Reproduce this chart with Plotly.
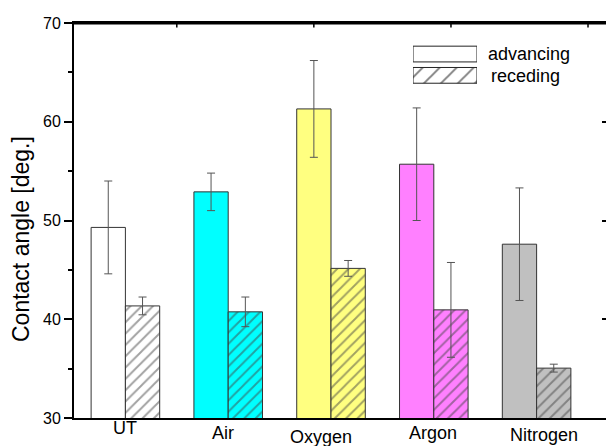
import plotly.graph_objects as go

categories = ["UT", "Air", "Oxygen", "Argon", "Nitrogen"]
advancing = [49.3, 52.9, 61.3, 55.7, 47.6]
advancing_err = [4.7, 1.9, 4.9, 5.7, 5.7]
receding = [41.35, 40.75, 45.15, 40.95, 35.05]
receding_err = [0.9, 1.5, 0.8, 4.8, 0.4]
bar_colors = ["#FFFFFF", "#00FFFF", "#FFFF80", "#FF80FF", "#C0C0C0"]
y_ticks = [30, 40, 50, 60, 70]
top_ticks = [0.5, 1.833, 3.167, 4.5]
legend_labels = ["advancing", "receding"]

FONT = "Liberation Sans, Arial, sans-serif"
W, H = 606, 446
ML, MR, MT, MB = 74, 0, 23, 28
PW, PH = W - ML - MR, H - MT - MB
Y_MIN, Y_MAX = 30, 70

fig = go.Figure()
fig.add_trace(go.Bar(
    x=categories, y=advancing, name=legend_labels[0], showlegend=False,
    marker=dict(color=bar_colors, line=dict(color="#333333", width=1)),
    error_y=dict(type="data", array=advancing_err, color="#555555", thickness=1, width=4),
))
fig.add_trace(go.Bar(
    x=categories, y=receding, name=legend_labels[1], showlegend=False,
    marker=dict(color=bar_colors, line=dict(color="#333333", width=1),
                pattern=dict(shape="/", fillmode="overlay", fgcolor="#000000", size=8, solidity=0.24)),
    error_y=dict(type="data", array=receding_err, color="#555555", thickness=1, width=4),
))

# empty helper trace so the right-hand tick axis gets drawn
fig.add_trace(go.Scatter(x=[], y=[], xaxis="x", yaxis="y2", showlegend=False, hoverinfo="skip"))

# legend swatches on a small private axis
fig.add_trace(go.Bar(
    y=[1], x=[1], orientation="h", xaxis="x3", yaxis="y3", showlegend=False, width=0.74,
    marker=dict(color="#FFFFFF", line=dict(color="#222222", width=1)), cliponaxis=False, hoverinfo="skip",
))
fig.add_trace(go.Bar(
    y=[0], x=[1], orientation="h", xaxis="x3", yaxis="y3", showlegend=False, width=0.74,
    marker=dict(color="#FFFFFF", line=dict(color="#222222", width=1),
                pattern=dict(shape="/", fillmode="overlay", fgcolor="#000000", size=12, solidity=0.16)),
    cliponaxis=False, hoverinfo="skip",
))

def py(ypx):
    return (H - MB - ypx) / PH

def px(xpx):
    return (xpx - ML) / PW

annotations = []
# legend text
annotations.append(dict(text=legend_labels[0], x=px(486), y=py(54), xref="paper", yref="paper",
                        xanchor="left", yanchor="middle", showarrow=False,
                        font=dict(family=FONT, size=18, color="black")))
annotations.append(dict(text=legend_labels[1], x=px(489), y=py(75.5), xref="paper", yref="paper",
                        xanchor="left", yanchor="middle", showarrow=False,
                        font=dict(family=FONT, size=18, color="black")))
# category labels (staggered like the original)
yshifts = [0, -5, -9, -5, -7]
xshifts = [0, -5, -10, -1, 7]
for c, ys, xs in zip(categories, yshifts, xshifts):
    annotations.append(dict(text=c, x=c, y=0, xref="x", yref="paper", xanchor="center", yanchor="top",
                            yshift=ys + 2, xshift=xs, showarrow=False,
                            font=dict(family=FONT, size=18, color="black")))
# y title
annotations.append(dict(text="Contact angle [deg.]", x=px(21), y=py(239), xref="paper", yref="paper",
                        xanchor="center", yanchor="middle", textangle=-90, showarrow=False,
                        font=dict(family=FONT, size=23, color="black")))

# top frame line and its inward ticks (drawn a hair inside the plot area)
px_per_unit = PH / (Y_MAX - Y_MIN)
y_top = Y_MAX - 0.7 / px_per_unit
shapes = [dict(type="line", xref="paper", yref="y", x0=0, x1=1, y0=y_top, y1=y_top,
               line=dict(color="black", width=1.6), layer="above")]
for t in top_ticks:
    shapes.append(dict(type="line", xref="x", yref="y", x0=t, x1=t, y0=y_top, y1=Y_MAX - 4.5 / px_per_unit,
                       line=dict(color="black", width=1.5), layer="above"))

fig.update_layout(
    template="none",
    width=W, height=H, margin=dict(l=ML, r=MR, t=MT, b=MB, autoexpand=False),
    paper_bgcolor="white", plot_bgcolor="white",
    barmode="group", bargap=0.333, bargroupgap=0,
    font=dict(family=FONT, color="black"),
    annotations=annotations,
    shapes=shapes,
    xaxis=dict(type="category", range=[-0.5, 4.675], showline=True, linecolor="black", linewidth=1.5,
               mirror=True, ticks="", showticklabels=False, showgrid=False, zeroline=False, automargin=False),
    yaxis=dict(range=[Y_MIN, Y_MAX], tickvals=y_ticks, ticks="outside", ticklen=8, tickwidth=1.5,
               tickcolor="black", showline=True, linecolor="black", linewidth=2, showgrid=False,
               zeroline=False, automargin=False, tickfont=dict(family=FONT, size=16, color="black"),
               minor=dict(dtick=5, tick0=30, ticks="outside", ticklen=4, tickwidth=1.5, tickcolor="black",
                          showgrid=False)),
    yaxis2=dict(overlaying="y", side="right", range=[Y_MIN, Y_MAX], tickvals=y_ticks, ticks="inside",
                ticklen=4, tickwidth=1.5, tickcolor="black", showticklabels=False, showline=False,
                showgrid=False, zeroline=False, automargin=False),
    xaxis3=dict(domain=[px(413), px(477)], range=[0, 1], visible=False, anchor="y3", automargin=False),
    yaxis3=dict(domain=[py(86), py(43.4)], range=[-0.5, 1.5], visible=False, anchor="x3", automargin=False),
    showlegend=False,
)

fig.write_html("out.html", config={"displayModeBar": False},
               post_script="document.body.style.margin='0';document.body.style.overflow='hidden';")
